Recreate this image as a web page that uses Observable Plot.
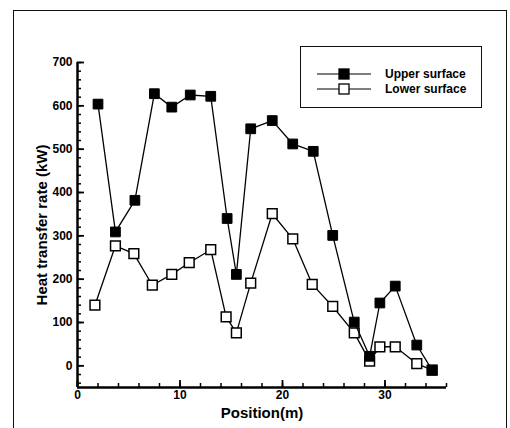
<!DOCTYPE html>
<html>
<head>
<meta charset="utf-8">
<script src="https://cdn.jsdelivr.net/npm/d3@7"></script>
<script src="https://cdn.jsdelivr.net/npm/@observablehq/plot@0.6"></script>
<style>
  html, body { margin: 0; padding: 0; background: #fff; }
  #wrap { position: relative; width: 510px; height: 428px; overflow: hidden; background: #fff; }
  #wrap > svg { position: absolute; left: 0; top: 0; }
  #border { position: absolute; left: 13px; top: 10px; width: 494px; height: 440px; border: 1px solid #111; box-sizing: border-box; }
  #legend { position: absolute; left: 300px; top: 46px; width: 182px; height: 62px; border: 1px solid #111; box-sizing: border-box; background: #fff; }
  #legend svg { position: absolute; left: 0; top: 0; }
</style>
</head>
<body>
<div id="wrap">
  <div id="border"></div>
  <div id="chart"></div>
  <div id="legend"></div>
</div>
<script>
// Data
const seriesNames = ["Upper surface", "Lower surface"];
const xUpper = [2, 3.7, 5.6, 7.5, 9.2, 11, 13, 14.6, 15.5, 16.9, 19, 21, 23, 24.9, 27, 28.5, 29.5, 31, 33.1, 34.6];
const upper  = [604, 309, 382, 628, 597, 625, 622, 340, 211, 547, 566, 512, 495, 301, 101, 22, 145, 184, 48, -10];
const xLower = [1.7, 3.7, 5.5, 7.3, 9.2, 10.9, 13, 14.5, 15.5, 16.9, 19, 21, 22.9, 24.9, 27, 28.5, 29.5, 31, 33.1, 34.6];
const lower  = [140, 277, 259, 186, 211, 238, 268, 113, 76, 191, 351, 293, 188, 137, 76, 11, 44, 44, 5, -10];
const xTickLabels = [0, 10, 20, 30];
const yTickLabels = [0, 100, 200, 300, 400, 500, 600, 700];
const xMinorTicks = d3.range(0, 37, 2);
const yMinorTicks = d3.range(-40, 701, 20);
const xLabel = "Position(m)";
const yLabel = "Heat transfer rate (kW)";

const W = 510, H = 428;
const mL = 77, mR = 64, mT = 62, mB = 41;
const plotW = W - mL - mR, plotH = H - mT - mB;

const upperData = xUpper.map((x, i) => ({x, y: upper[i]}));
const lowerData = xLower.map((x, i) => ({x, y: lower[i]}));

const font = "'Liberation Sans', Arial, Helvetica, sans-serif";

const chart = Plot.plot({
  width: W, height: H,
  marginLeft: mL, marginRight: mR, marginTop: mT, marginBottom: mB,
  style: {fontFamily: font, fontWeight: "bold", color: "#000", background: "transparent", overflow: "visible"},
  x: {domain: [0, 36]},
  y: {domain: [-50, 700]},
  marks: [
    Plot.axisX({ticks: xTickLabels, tickSize: 0, tickPadding: 3, fontSize: 12, label: null}),
    Plot.axisY({ticks: yTickLabels, tickSize: 0, tickPadding: 5, fontSize: 12, label: null}),
    Plot.tickX(xMinorTicks, {x: d => d, insetTop: plotH - 4, stroke: "#000", strokeWidth: 1.5}),
    Plot.tickX(xTickLabels, {x: d => d, insetTop: plotH - 7, stroke: "#000", strokeWidth: 1.8}),
    Plot.tickY(yMinorTicks, {y: d => d, insetRight: plotW - 4, stroke: "#000", strokeWidth: 1.5}),
    Plot.tickY(yTickLabels, {y: d => d, insetRight: plotW - 7, stroke: "#000", strokeWidth: 1.8}),
    Plot.ruleX([0], {stroke: "#000", strokeWidth: 2.5}),
    Plot.ruleY([-50], {stroke: "#000", strokeWidth: 2.5}),
    Plot.text([xLabel], {frameAnchor: "bottom", lineAnchor: "middle", dy: 26, fontSize: 15, fontWeight: "bold", fill: "#000"}),
    Plot.text([yLabel], {frameAnchor: "left", textAnchor: "middle", lineAnchor: "middle", rotate: -90, dx: -35, fontSize: 15, fontWeight: "bold", fill: "#000"}),
    Plot.line(lowerData, {x: "x", y: "y", stroke: "#000", strokeWidth: 1.3}),
    Plot.dot(lowerData, {x: "x", y: "y", symbol: "square", r: 5.5, fill: "#fff", stroke: "#000", strokeWidth: 1.5}),
    Plot.line(upperData, {x: "x", y: "y", stroke: "#000", strokeWidth: 1.3}),
    Plot.dot(upperData, {x: "x", y: "y", symbol: "square", r: 5.5, fill: "#000", stroke: "#000", strokeWidth: 1})
  ]
});
document.getElementById("chart").appendChild(chart);

// Legend
const legend = document.getElementById("legend");
const ns = "http://www.w3.org/2000/svg";
const lsvg = document.createElementNS(ns, "svg");
lsvg.setAttribute("width", 182); lsvg.setAttribute("height", 62);
const rows = [{name: seriesNames[0], fill: "#000", y: 27}, {name: seriesNames[1], fill: "#fff", y: 42}];
rows.forEach(r => {
  const line = document.createElementNS(ns, "line");
  line.setAttribute("x1", 16); line.setAttribute("x2", 70);
  line.setAttribute("y1", r.y); line.setAttribute("y2", r.y);
  line.setAttribute("stroke", "#000"); line.setAttribute("stroke-width", 1.2);
  lsvg.appendChild(line);
  const rect = document.createElementNS(ns, "rect");
  rect.setAttribute("x", 38); rect.setAttribute("y", r.y - 5);
  rect.setAttribute("width", 10); rect.setAttribute("height", 10);
  rect.setAttribute("fill", r.fill); rect.setAttribute("stroke", "#000"); rect.setAttribute("stroke-width", 1.3);
  lsvg.appendChild(rect);
  const t = document.createElementNS(ns, "text");
  t.setAttribute("x", 84); t.setAttribute("y", r.y + 4);
  t.setAttribute("font-family", font); t.setAttribute("font-weight", "bold"); t.setAttribute("font-size", 12);
  t.textContent = r.name;
  lsvg.appendChild(t);
});
legend.appendChild(lsvg);
</script>
</body>
</html>
